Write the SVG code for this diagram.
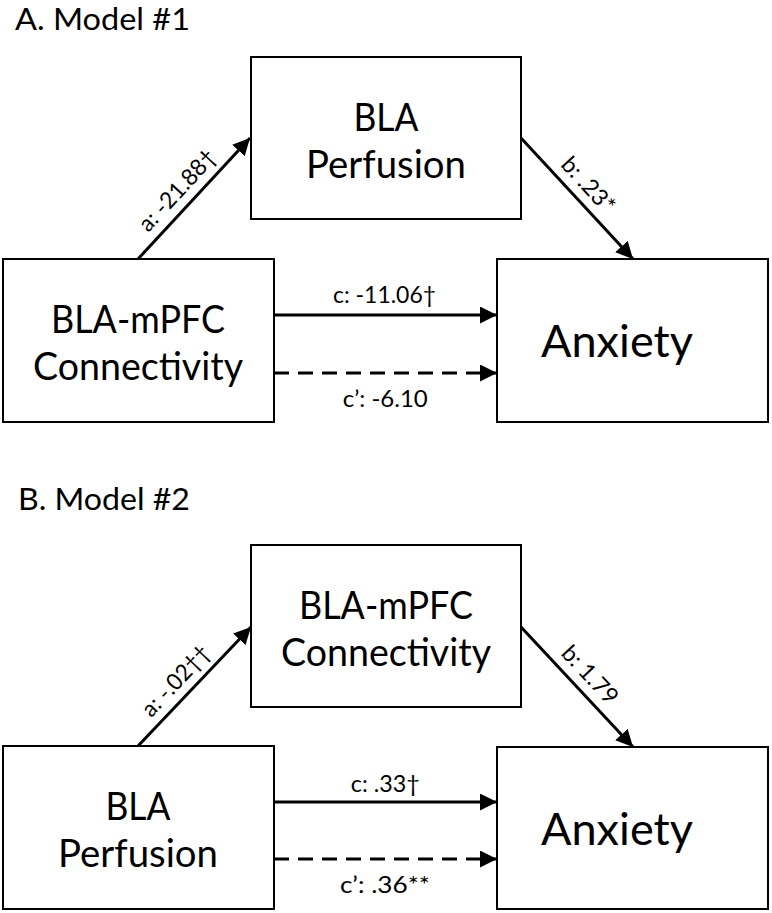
<svg xmlns="http://www.w3.org/2000/svg" width="772" height="913" viewBox="0 0 772 913">
<style>
.box{fill:#fff;stroke:#000;stroke-width:2}
.t{font-family:Lato,"Liberation Sans",sans-serif;fill:#000;text-anchor:middle}
.bt{font-size:38px}
.ax{font-size:45px}
.lb{font-size:23px}
.ttl{font-family:Lato,"Liberation Sans",sans-serif;font-size:30px;fill:#000}
.ln{stroke:#000;stroke-width:3;fill:none}
.dash{stroke-dasharray:15 9}
</style>
<defs>
<marker id="ah" viewBox="0 0 17 17" refX="17" refY="8.5" markerWidth="17" markerHeight="17" markerUnits="userSpaceOnUse" orient="auto">
<path d="M0,0 L17,8.5 L0,17 Z" fill="#000"/>
</marker>
</defs>
<rect width="772" height="913" fill="#fff"/>
<text class="ttl" x="15" y="30" textLength="175" lengthAdjust="spacingAndGlyphs">A. Model #1</text>
<text class="ttl" x="18" y="510" textLength="172" lengthAdjust="spacingAndGlyphs">B. Model #2</text>

<g id="connectors">
<line class="ln" x1="138" y1="259" x2="250" y2="138" marker-end="url(#ah)"/>
<line class="ln" x1="521" y1="138" x2="633" y2="259" marker-end="url(#ah)"/>
<line class="ln" x1="274" y1="315" x2="497" y2="315" marker-end="url(#ah)"/>
<line class="ln dash" x1="274" y1="373" x2="497" y2="373" marker-end="url(#ah)"/>
<line class="ln" x1="138" y1="746" x2="251" y2="627" marker-end="url(#ah)"/>
<line class="ln" x1="521" y1="627" x2="633" y2="747" marker-end="url(#ah)"/>
<line class="ln" x1="274" y1="802" x2="497" y2="802" marker-end="url(#ah)"/>
<line class="ln dash" x1="274" y1="859" x2="497" y2="859" marker-end="url(#ah)"/>
<text class="t lb" transform="translate(183,195.7) rotate(-47.2)" textLength="102" lengthAdjust="spacingAndGlyphs">a: -21.88†</text>
<text class="t lb" transform="translate(582.5,190.2) rotate(47.5)" textLength="67" lengthAdjust="spacingAndGlyphs">b: .23*</text>
<text class="t lb" x="384.5" y="303" textLength="103" lengthAdjust="spacingAndGlyphs">c: -11.06†</text>
<text class="t lb" x="385.3" y="407" textLength="85" lengthAdjust="spacingAndGlyphs">c’: -6.10</text>
<text class="t lb" transform="translate(181.5,686.2) rotate(-46.7)" textLength="88" lengthAdjust="spacingAndGlyphs">a: -.02††</text>
<text class="t lb" transform="translate(584.2,680.1) rotate(47)" textLength="71" lengthAdjust="spacingAndGlyphs">b: 1.79</text>
<text class="t lb" x="385.3" y="792" textLength="69" lengthAdjust="spacingAndGlyphs">c: .33†</text>
<text class="t lb" x="385" y="893" textLength="90" lengthAdjust="spacingAndGlyphs">c’: .36**</text>
</g>

<g id="a-mediator">
<rect class="box" x="251" y="57" width="270" height="162"/>
<text class="t bt" x="386" y="130.5" textLength="65" lengthAdjust="spacingAndGlyphs">BLA</text>
<text class="t bt" x="386" y="177.5" textLength="160" lengthAdjust="spacingAndGlyphs">Perfusion</text>
</g>
<g id="a-predictor">
<rect class="box" x="3" y="259" width="271" height="163"/>
<text class="t bt" x="138" y="333" textLength="174" lengthAdjust="spacingAndGlyphs">BLA-mPFC</text>
<text class="t bt" x="138" y="380" textLength="210" lengthAdjust="spacingAndGlyphs">Connectivity</text>
</g>
<g id="a-outcome">
<rect class="box" x="497" y="259" width="271" height="163"/>
<text class="t ax" x="617" y="357" textLength="152" lengthAdjust="spacingAndGlyphs">Anxiety</text>
</g>

<g id="b-mediator">
<rect class="box" x="251" y="545" width="270" height="162"/>
<text class="t bt" x="386" y="618.5" textLength="174" lengthAdjust="spacingAndGlyphs">BLA-mPFC</text>
<text class="t bt" x="386" y="665.5" textLength="210" lengthAdjust="spacingAndGlyphs">Connectivity</text>
</g>
<g id="b-predictor">
<rect class="box" x="3" y="746" width="271" height="163"/>
<text class="t bt" x="138" y="820" textLength="65" lengthAdjust="spacingAndGlyphs">BLA</text>
<text class="t bt" x="138" y="867" textLength="160" lengthAdjust="spacingAndGlyphs">Perfusion</text>
</g>
<g id="b-outcome">
<rect class="box" x="497" y="747" width="271" height="162"/>
<text class="t ax" x="617" y="845" textLength="152" lengthAdjust="spacingAndGlyphs">Anxiety</text>
</g>
</svg>
